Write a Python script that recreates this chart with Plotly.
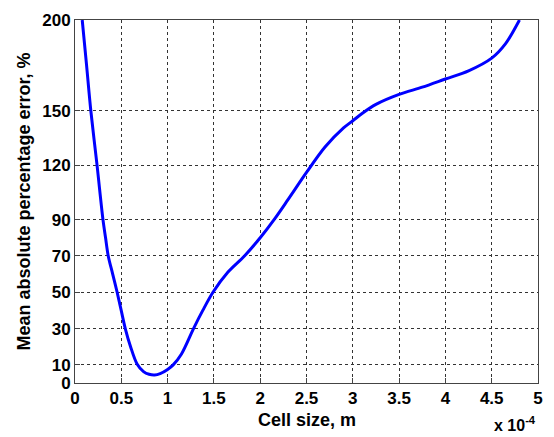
import plotly.graph_objects as go

# Cell size (x 1e-4 m) and mean absolute percentage error (%)
cell_size = [0.078, 0.125, 0.171, 0.238, 0.302, 0.33, 0.359, 0.407, 0.455, 0.499, 0.543, 0.60, 0.67, 0.74, 0.80, 0.86, 0.92, 1.00, 1.06, 1.15, 1.28, 1.38, 1.49, 1.65, 1.83, 2.00, 2.15, 2.30, 2.50, 2.70, 2.90, 3.00, 3.10, 3.25, 3.50, 3.75, 4.00, 4.25, 4.50, 4.65, 4.80]
mape = [200, 175, 150, 120, 90, 80, 70, 60, 50, 40, 30, 20, 10.5, 6.3, 4.8, 4.4, 5.2, 7.5, 10, 16, 30, 40, 50, 61, 70, 80, 90, 101, 116, 130, 140.5, 144.5, 148.5, 153.5, 159, 163, 167.5, 172, 179, 187, 200]

y_ticks = [0, 10, 30, 50, 70, 90, 120, 150, 200]
x_ticks = [0, 0.5, 1, 1.5, 2, 2.5, 3, 3.5, 4, 4.5, 5]
x_tick_labels = ["0", "0.5", "1", "1.5", "2", "2.5", "3", "3.5", "4", "4.5", "5"]

font_family = "Liberation Sans, Arial, sans-serif"

fig = go.Figure()
fig.add_trace(go.Scatter(
    x=cell_size, y=mape, mode="lines",
    line=dict(color="#0000ff", width=3, shape="spline", smoothing=0.9),
    hoverinfo="skip", showlegend=False,
))

axis_common = dict(
    showgrid=True, gridcolor="#333333", griddash="dot", gridwidth=1,
    showline=True, linecolor="#444444", linewidth=1, mirror=True,
    ticks="inside", ticklen=5, tickcolor="#444444",
    zeroline=False,
    tickfont=dict(family=font_family, size=17, color="black", weight="bold"),
)

fig.update_layout(
    width=554, height=437,
    margin=dict(l=75, r=11, t=16, b=54),
    paper_bgcolor="white", plot_bgcolor="white",
    font=dict(family=font_family, color="black"),
    xaxis=dict(
        range=[0, 5], tickvals=x_ticks, ticktext=x_tick_labels,
        **axis_common,
    ),
    yaxis=dict(
        range=[0, 200], tickvals=y_ticks,
        title=dict(text="<b>Mean absolute percentage error, %</b>", font=dict(family=font_family, size=18, color="black"), standoff=6),
        **axis_common,
    ),
    annotations=[
        dict(
            text="<b>Cell size, m</b>", xref="paper", yref="paper",
            x=0.5, y=-0.101, xanchor="center", yanchor="middle", showarrow=False,
            font=dict(family=font_family, size=18, color="black"),
        ),
        dict(
            text="<b>x 10<sup>-4</sup></b>", xref="paper", yref="paper",
            x=1.0, y=-0.147, xanchor="right", yanchor="bottom", showarrow=False,
            font=dict(family=font_family, size=16, color="black"),
        ),
    ],
)

fig.write_html("out.html")
